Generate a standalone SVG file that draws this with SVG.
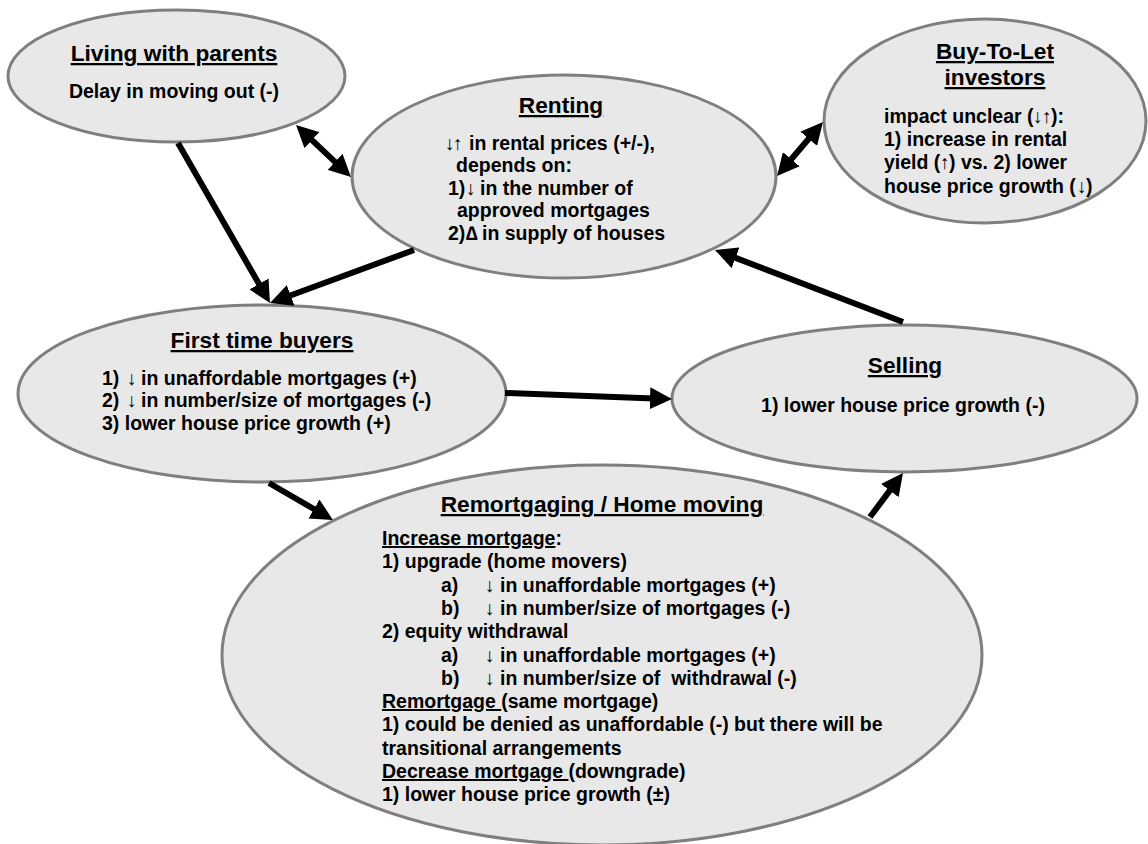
<svg xmlns="http://www.w3.org/2000/svg" width="1148" height="844" viewBox="0 0 1148 844">
<style>
.node{fill:#e8e8e8;stroke:#7f7f7f;stroke-width:3}
text{font-family:"Liberation Sans",Arial,sans-serif;font-weight:bold;fill:#000}
.t{font-size:22.7px;text-anchor:middle;text-decoration:underline}
.b{font-size:19.5px;white-space:pre}
.c{text-anchor:middle}
.u{text-decoration:underline}
.e{fill:none;stroke:#000;stroke-width:6}
</style>
<defs>
<marker id="ah" markerUnits="userSpaceOnUse" markerWidth="22" markerHeight="22" refX="4" refY="11" orient="auto-start-reverse" viewBox="0 0 22 22">
<path d="M0,0 L22,11 L0,22 z" fill="#000"/>
</marker>
</defs>
<g id="living">
<ellipse class="node" cx="176.5" cy="76" rx="168.5" ry="66"/>
<text class="t" x="174" y="61">Living with parents</text>
<text class="b c" x="174" y="98">Delay in moving out (-)</text>
</g>
<g id="renting">
<ellipse class="node" cx="564" cy="176.5" rx="212" ry="101.5"/>
<text class="t" x="561" y="113">Renting</text>
<text class="b" y="150"><tspan x="445">↓</tspan><tspan x="453">↑</tspan><tspan x="469">in rental prices (+/-),</tspan></text>
<text class="b" x="456" y="172">depends on:</text>
<text class="b" y="195"><tspan x="448">1)</tspan><tspan x="466">↓</tspan><tspan x="480">in the number of</tspan></text>
<text class="b" x="457" y="217">approved mortgages</text>
<text class="b" y="240"><tspan x="448">2)</tspan><tspan x="466">∆</tspan><tspan x="482">in supply of houses</tspan></text>
</g>
<g id="buytolet">
<ellipse class="node" cx="985" cy="121" rx="161" ry="102"/>
<text class="t" x="995" y="59">Buy-To-Let</text>
<text class="t" x="995" y="85">investors</text>
<text class="b" y="123"><tspan x="884">impact unclear (</tspan><tspan x="1033">↓</tspan><tspan x="1042">↑</tspan><tspan x="1051">):</tspan></text>
<text class="b" x="884" y="146">1) increase in rental</text>
<text class="b" y="169"><tspan x="884">yield (</tspan><tspan x="940">↑</tspan><tspan x="949">) vs. 2) lower</tspan></text>
<text class="b" y="193"><tspan x="884">house price growth (</tspan><tspan x="1077">↓</tspan><tspan x="1086">)</tspan></text>
</g>
<g id="firsttime">
<ellipse class="node" cx="262" cy="393.5" rx="244" ry="88.5"/>
<text class="t" x="262" y="348">First time buyers</text>
<text class="b" y="385"><tspan x="102">1)</tspan><tspan x="127">↓</tspan><tspan x="141">in unaffordable mortgages (+)</tspan></text>
<text class="b" y="407"><tspan x="102">2)</tspan><tspan x="127">↓</tspan><tspan x="141">in number/size of mortgages (-)</tspan></text>
<text class="b" x="102" y="430">3) lower house price growth (+)</text>
</g>
<g id="selling">
<ellipse class="node" cx="904.5" cy="398.5" rx="232.5" ry="73.5"/>
<text class="t" x="905" y="373">Selling</text>
<text class="b c" x="903" y="412">1) lower house price growth (-)</text>
</g>
<g id="remortgaging">
<ellipse class="node" cx="602" cy="655" rx="380" ry="190"/>
<text class="t" x="602" y="512">Remortgaging / Home moving</text>
<text class="b" x="382" y="545"><tspan class="u">Increase mortgage</tspan>:</text>
<text class="b" x="382" y="568">1) upgrade (home movers)</text>
<text class="b" y="592"><tspan x="441">a)</tspan><tspan x="485">↓</tspan><tspan x="500">in unaffordable mortgages (+)</tspan></text>
<text class="b" y="615"><tspan x="441">b)</tspan><tspan x="485">↓</tspan><tspan x="500">in number/size of mortgages (-)</tspan></text>
<text class="b" x="382" y="638">2) equity withdrawal</text>
<text class="b" y="662"><tspan x="441">a)</tspan><tspan x="485">↓</tspan><tspan x="500">in unaffordable mortgages (+)</tspan></text>
<text class="b" y="685"><tspan x="441">b)</tspan><tspan x="485">↓</tspan><tspan x="500">in number/size of  withdrawal (-)</tspan></text>
<text class="b" x="382" y="708"><tspan class="u">Remortgage </tspan>(same mortgage)</text>
<text class="b" x="382" y="731">1) could be denied as unaffordable (-) but there will be</text>
<text class="b" x="382" y="755">transitional arrangements</text>
<text class="b" x="382" y="778"><tspan class="u">Decrease mortgage </tspan>(downgrade)</text>
<text class="b" x="382" y="801">1) lower house price growth (±)</text>
</g>
<g id="connectors">
<line class="e" x1="178" y1="143" x2="261" y2="287.4" marker-end="url(#ah)"/>
<line class="e" x1="414" y1="250" x2="286.9" y2="296.8" marker-end="url(#ah)"/>
<line class="e" x1="309.1" y1="137.4" x2="337.9" y2="164.6" marker-start="url(#ah)" marker-end="url(#ah)"/>
<line class="e" x1="788.7" y1="162.3" x2="811.3" y2="135.7" marker-start="url(#ah)" marker-end="url(#ah)"/>
<line class="e" x1="903" y1="322" x2="731.8" y2="256.4" marker-end="url(#ah)"/>
<line class="e" x1="505" y1="393" x2="654" y2="398.4" marker-end="url(#ah)"/>
<line class="e" x1="269" y1="483" x2="317.4" y2="511" marker-end="url(#ah)"/>
<line class="e" x1="870" y1="517" x2="892.2" y2="487.4" marker-end="url(#ah)"/>
</g>
</svg>
